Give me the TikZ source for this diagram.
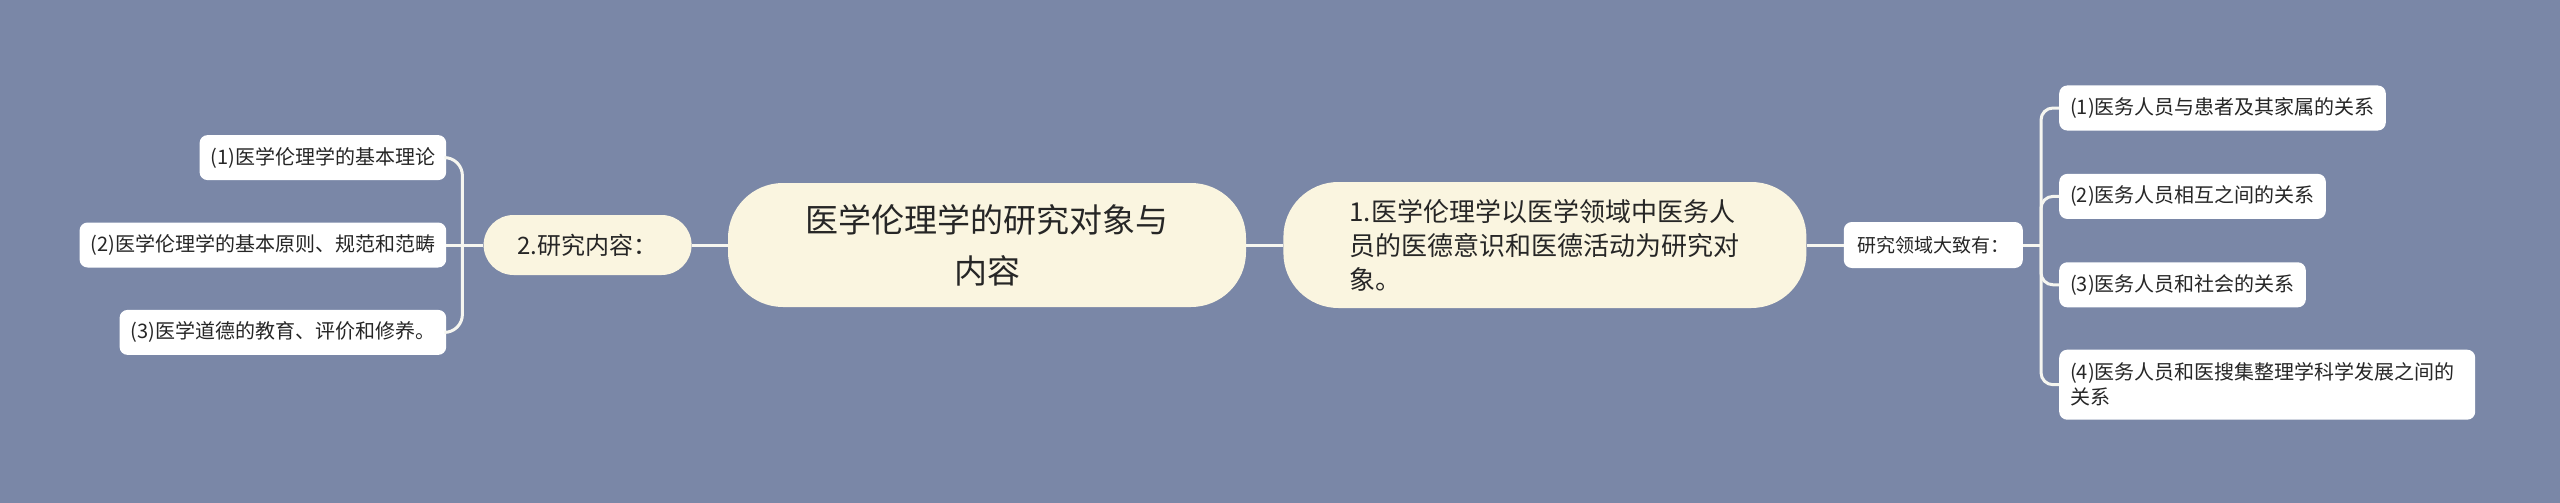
\documentclass[tikz,border=0pt]{standalone}
\usepackage{fontspec}
\setmainfont{Noto Sans CJK SC}
\usetikzlibrary{positioning}
\definecolor{bg}{HTML}{7A87A7}
\definecolor{cream}{HTML}{FAF5E0}
\definecolor{ink}{HTML}{262626}
\definecolor{wire}{HTML}{F6F6F0}
\tikzset{
  core/.style={fill=cream, text=ink, rounded corners=55pt, minimum width=518pt,
    minimum height=124pt, align=center, font=\fontsize{33}{51}\selectfont},
  topic/.style={fill=cream, text=ink},
  leaf/.style={fill=white, text=ink, rounded corners=8pt, inner xsep=11pt,
    inner ysep=0pt, minimum height=45pt, font=\fontsize{20}{25}\selectfont},
  link/.style={draw=wire, line width=3pt}
}

\begin{document}
\begin{tikzpicture}[x=1pt,y=-1pt]
\fill[bg] (0,0) rectangle (2560,503);
\useasboundingbox (0,0) rectangle (2560,503);

\node (C) [core] at (987,245) {医学伦理学的研究对象与\\内容};
\node (T1) [topic, right=37pt of C, rounded corners=55pt, minimum height=126pt,
  text width=391pt, inner xsep=66pt, align=left,
  font=\fontsize{26}{34}\selectfont]
  {1.医学伦理学以医学领域中医务人\\员的医德意识和医德活动为研究对\\象。};
\node (S) [leaf, right=37pt of T1, minimum width=179pt, minimum height=46pt,
  font=\fontsize{19}{24}\selectfont] {研究领域大致有：};
\node (T2) [topic, left=36pt of C, rounded corners=30pt, minimum width=208pt,
  minimum height=60pt, font=\fontsize{24}{30}\selectfont] {2.研究内容：};

\coordinate (RB) at ([xshift=18pt]S.east);
\coordinate (LB) at ([xshift=-21pt]T2.west);

\node (R1) [leaf, anchor=west] at (2059,108) {(1)医务人员与患者及其家属的关系};
\node (R2) [leaf, below=43pt of R1.south west, anchor=north west] {(2)医务人员相互之间的关系};
\node (R3) [leaf, below=43pt of R2.south west, anchor=north west] {(3)医务人员和社会的关系};
\node (R4) [leaf, below=42pt of R3.south west, anchor=north west, text width=394pt,
  align=left, minimum height=70pt] {(4)医务人员和医搜集整理学科学发展之间的\\关系};

\node (L2) [leaf, left=16pt of LB] {(2)医学伦理学的基本原则、规范和范畴};
\node (L1) [leaf, above=42pt of L2.north east, anchor=south east] {(1)医学伦理学的基本理论};
\node (L3) [leaf, below=42pt of L2.south east, anchor=north east] {(3)医学道德的教育、评价和修养。};

\draw[link] (C.east) -- (T1.west);
\draw[link] (T1.east) -- (S.west);
\draw[link] (S.east) -- (RB);
\draw[link, rounded corners=12pt] (RB) |- (R1.west);
\draw[link, rounded corners=12pt] (RB) |- (R2.west);
\draw[link, rounded corners=12pt] (RB) |- (R3.west);
\draw[link, rounded corners=12pt] (RB) |- (R4.west);

\draw[link] (C.west) -- (T2.east);
\draw[link] (T2.west) -- (LB);
\draw[link, rounded corners=18pt] (LB) |- (L1.east);
\draw[link] (LB) -- (L2.east);
\draw[link, rounded corners=18pt] (LB) |- (L3.east);
\end{tikzpicture}
\end{document}
